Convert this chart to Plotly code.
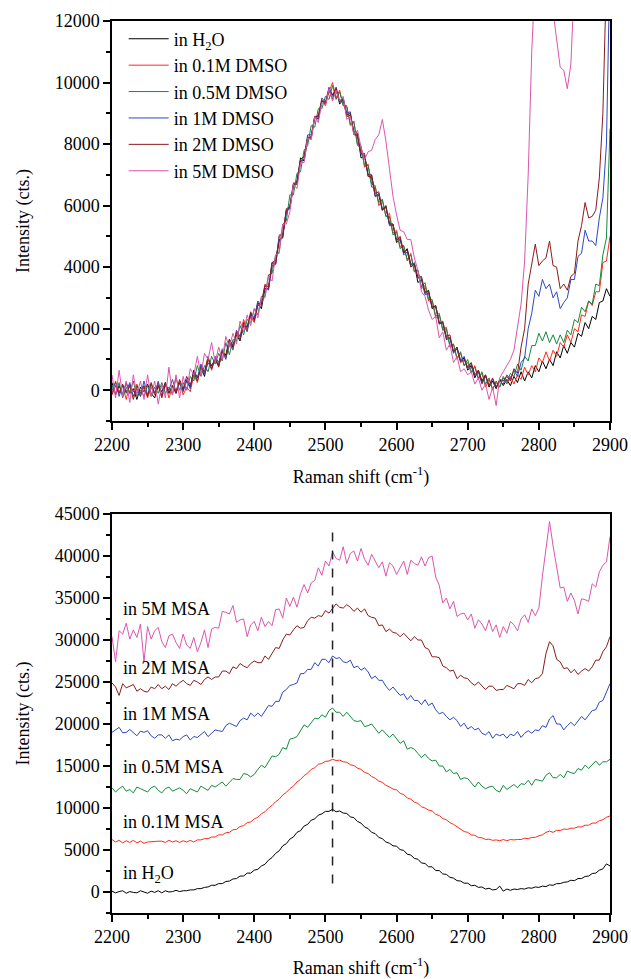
import plotly.graph_objects as go

# Raman shift grid (cm^-1), sampled every 5 cm^-1
RAMAN_SHIFT = list(range(2200, 2905, 5))

# ---------------- Top panel: DMSO series ----------------
TOP_NAMES = ["in H<sub>2</sub>O", "in 0.1M DMSO", "in 0.5M DMSO", "in 1M DMSO", "in 2M DMSO", "in 5M DMSO"]

TOP_H2O = [250,-150,150,-150,250,-100,50,-300,100,-50,
 200,-100,-250,150,-50,250,-100,150,-100,250,
 0,300,100,650,400,750,450,1000,800,1000,
 800,1250,1150,1650,1400,1800,1600,2200,2050,2450,
 2300,2850,2650,3300,3300,4150,4200,4900,4950,5850,
 5900,6650,6800,7550,7450,8150,8250,8900,8800,9400,
 9300,9800,9600,9800,9300,9450,8900,8950,8400,8350,
 7550,7600,7000,7000,6300,6350,5850,6000,5400,5400,
 4800,4900,4450,4600,4100,4100,3500,3600,3150,3250,
 2650,2750,2200,2200,1650,1700,1250,1400,950,1050,
 650,800,400,650,300,500,100,300,50,350,150,
 350,150,450,250,600,300,600,400,800,600,
 950,700,1000,800,1250,1050,1450,1200,1550,1400,
 1850,1750,2200,2000,2400,2300,2850,2900,3300,3050]

TOP_DMSO_01 = [-100,300,-50,150,-300,200,-50,200,-200,100,
 -250,100,-150,300,-200,200,-250,100,0,300,
 -150,100,-50,500,250,800,550,1050,650,1050,
 850,1350,1050,1500,1300,1850,1750,2300,1950,2400,
 2200,2800,2800,3450,3350,4000,4100,5050,5100,5800,
 5950,6750,6700,7400,7600,8250,8150,8850,8950,9450,
 9250,9700,10000,9500,9750,9250,9250,8600,8750,8000,
 7950,7250,7350,6700,6650,6000,6200,5650,5750,5100,
 5200,4650,4700,4200,4450,3850,3900,3300,3400,2900,
 2900,2350,2450,1950,2050,1450,1500,1000,1200,800,
 900,550,800,400,550,100,350,50,250,100,400,
 200,450,200,500,350,750,500,800,600,1050,
 900,1250,950,1300,1100,1550,1400,1800,1550,2000,
 1900,2450,2400,2900,2750,3200,3200,4150,4200,5000]

TOP_DMSO_05 = [150,-100,250,-250,100,-100,300,-200,0,-200,
 150,-200,100,-100,250,-100,100,-150,400,0,
 250,0,450,300,800,450,800,600,1100,850,
 1200,950,1550,1150,1650,1600,2100,1800,2300,2200,
 2650,2450,3050,3050,3750,3800,4400,4500,5400,5500,
 6350,6350,7050,7100,7800,7950,8600,8550,9150,9150,
 9550,9450,9900,9450,9700,9250,9200,8650,8700,7950,
 7900,7300,7300,6600,6600,6100,6200,5650,5650,5050,
 5150,4600,4700,4250,4400,3850,3900,3350,3500,2950,
 2950,2400,2500,1950,2000,1400,1500,1050,1250,800,
 1000,600,750,350,600,200,400,0,300,100,450,
 250,550,450,850,650,1100,950,1450,1450,1850,
 1600,1900,1550,1800,1500,1800,1550,1950,1800,2300,
 2200,2700,2550,2900,2800,3450,3400,4400,4950,8500]

TOP_DMSO_1 = [0,250,-200,150,-50,250,-200,50,-200,300,
 -150,200,-100,250,-200,150,0,350,-50,250,
 -50,350,50,600,400,850,500,900,700,1100,
 900,1300,1000,1550,1350,1950,1750,2150,1900,2500,
 2350,2900,2750,3400,3250,4050,4100,5000,5050,5750,
 6000,6700,6750,7450,7500,8300,8300,8850,8850,9500,
 9350,9850,9550,9750,9350,9500,9000,9050,8350,8250,
 7650,7650,6950,6900,6300,6400,5900,5950,5350,5350,
 4900,4950,4400,4500,4050,4150,3650,3650,3100,3150,
 2700,2700,2150,2250,1700,1700,1200,1350,950,1100,
 700,850,450,600,200,450,150,350,100,300,200,
 500,350,650,450,900,1050,2000,2500,3250,3050,
 3600,3300,3450,3000,3200,2650,2850,3000,3600,3600,
 4350,4450,5200,4850,4850,4700,5600,6250,8000,14000]

TOP_DMSO_2 = [-150,150,-100,200,-100,150,-300,150,-100,150,
 -200,250,-100,150,-250,250,-100,150,-100,350,
 50,450,150,600,300,750,600,1100,700,1000,
 750,1250,1100,1650,1450,1900,1650,2100,2050,2550,
 2250,2750,2800,3400,3350,4150,4100,4850,5000,5900,
 5950,6650,6700,7500,7600,8200,8200,8900,8900,9400,
 9350,9750,9450,9850,9400,9450,8950,9000,8300,8300,
 7700,7700,6950,6950,6400,6450,5850,5950,5400,5400,
 4850,5000,4500,4550,4000,4100,3650,3700,3200,3200,
 2700,2750,2150,2200,1750,1800,1250,1350,900,1000,
 750,900,500,650,250,500,150,400,100,350,300,
 450,300,700,550,1400,2000,3450,4100,4750,4050,
 4200,4300,4850,4050,4000,3300,3450,3250,3700,3800,
 4850,5350,6100,5600,5650,5850,6900,9000,13000,18000]

TOP_DMSO_5 = [500,-250,650,-200,300,-400,500,-150,300,-300,
 500,-200,300,-450,200,-250,750,-150,500,-250,
 450,0,700,500,1100,500,1200,1000,1550,900,
 1400,1000,1750,1400,1850,1500,2250,1900,2450,2100,
 2650,2350,3000,3000,3700,3550,4400,4450,5400,5400,
 5800,6700,6550,7400,7400,8200,8150,8900,8700,9350,
 9250,9800,9400,9750,9400,9550,8800,8900,8300,8450,
 7900,7500,7750,7800,8150,8300,8800,8100,7200,6300,
 5700,5200,5150,4900,4900,4300,3900,3200,3050,2600,
 2300,2400,1700,1900,1300,1500,900,1100,600,700,
 500,600,200,400,0,200,-300,100,-500,400,600,
 800,1000,1300,2000,2800,4200,7000,11000,14000,16000,
 16000,16000,16000,12300,11300,10500,10400,9800,10600,13000,
 16000,16000,16000,16000,16000,16000,16000,16000,16000,16000]

# ---------------- Bottom panel: MSA series ----------------
BOT_LABELS = ["in H<sub>2</sub>O", "in 0.1M MSA", "in 0.5M MSA", "in 1M MSA", "in 2M MSA", "in 5M MSA"]
BOT_LABEL_X = [2213, 2213, 2213, 2213, 2213, 2213]
BOT_LABEL_Y = [2100, 8300, 14900, 21200, 26700, 33700]
DASH_X = 2510
DASH_Y = [1000, 42800]

BOT_H2O = [100,-100,50,150,-150,50,-50,-100,150,0,
 -150,100,-50,150,-100,150,0,50,200,50,
 150,150,250,250,400,400,550,600,800,800,
 1000,1000,1250,1300,1550,1600,1900,1900,2250,2250,
 2600,2700,3100,3300,3800,4100,4600,4900,5500,5750,
 6300,6550,7100,7300,7850,8050,8550,8700,9150,9300,
 9600,9600,9850,9550,9650,9400,9350,8950,8850,8400,
 8200,7750,7550,7100,6950,6500,6350,5950,5800,5500,
 5450,5050,4950,4500,4400,4000,3900,3450,3400,3000,
 3000,2550,2550,2150,2100,1750,1650,1350,1300,1050,
 1050,750,800,550,600,350,450,250,300,700,
 100,350,200,350,300,400,350,500,450,600,
 550,700,650,850,800,1000,1000,1150,1200,1400,
 1350,1600,1600,1850,1900,2200,2250,2600,2750,3350,
 3100]

BOT_MSA_01 = [6250,5950,6150,5850,6100,5900,6150,5850,6050,5800,
 5950,6000,6000,6050,6050,5900,6150,5950,6100,5900,
 6100,5950,6150,5950,6200,6200,6350,6350,6550,6550,
 6800,6800,7050,7100,7400,7450,7800,7900,8250,8350,
 8700,8900,9300,9550,10000,10300,10750,11050,11550,11850,
 12300,12600,13100,13400,13850,14150,14600,14800,15200,15300,
 15550,15600,15800,15650,15700,15500,15450,15150,15050,14750,
 14600,14250,14100,13750,13550,13200,13050,12700,12500,12250,
 12150,11750,11600,11200,11050,10700,10550,10150,10000,9750,
 9650,9250,9100,8750,8600,8250,8050,7750,7550,7200,
 7100,6800,6750,6500,6450,6250,6300,6150,6200,6100,
 6250,6100,6250,6200,6250,6250,6400,6350,6500,6500,
 6700,6800,7100,7250,7100,7350,7300,7500,7450,7600,
 7600,7750,7750,7950,7950,8200,8200,8500,8600,8900,
 9050]

BOT_MSA_05 = [12400,11900,12300,12600,12000,12200,11800,12500,12300,12100,
 11900,12400,12600,12100,11800,12300,12500,12000,12200,12400,
 12100,11700,12300,12100,11900,12600,12300,12100,12700,12500,
 12800,13100,12600,13000,13500,13400,13400,14100,14000,13700,
 14000,14600,15100,14800,15500,16200,16100,16400,17200,17000,
 18200,18300,18500,19200,19900,19600,20100,20700,20600,21100,
 20800,21600,21900,21400,21400,20900,21400,20900,20400,20300,
 20400,19700,19800,20000,19400,18900,19300,18900,18400,18800,
 18200,17700,18000,17000,17200,17000,16500,16000,16400,15900,
 15600,15700,15000,15000,14300,14600,14100,14200,13400,13600,
 13500,13000,12500,13100,12600,12300,12500,12600,12100,11900,
 12700,12200,12500,12800,12400,12900,12800,13300,12700,13400,
 13300,13200,13900,14200,13600,13600,14000,13600,14400,14200,
 14100,14700,14500,15100,14700,15200,15600,15100,15500,15500,
 15800]

BOT_MSA_1 = [19000,19350,19600,18950,19000,19350,19000,18600,19150,19000,
 19200,18600,18300,18700,18700,18300,18700,18000,18200,18100,
 18500,18700,18100,18500,18400,18800,19100,18500,18900,19300,
 19200,19100,19800,20100,19900,19700,20400,20700,20500,21300,
 20900,21300,20900,21500,22200,22100,22700,22700,23800,24100,
 24600,24700,24900,26000,26000,26500,26500,27300,26900,27700,
 27700,27300,28100,27800,27900,27400,27300,27600,26700,26900,
 26400,26700,26200,25400,25700,25200,25200,24500,24000,24400,
 23900,23400,23600,22900,23400,22800,22800,22300,22900,22200,
 22500,21700,21200,21400,20900,20500,20800,20400,19700,20100,
 19400,19700,19300,19500,18900,18700,19100,18300,18800,18600,
 18800,18300,18800,18600,19100,18400,18900,19200,18900,19300,
 19200,19800,19600,20600,21000,20000,20000,19300,19800,20200,
 19800,20300,20900,20500,21100,21600,21700,22600,22800,23900,
 24800]

BOT_MSA_2 = [24900,24400,23400,24800,24300,24500,24700,23900,24200,23900,
 23800,24400,24200,24700,24200,24500,24100,24800,24500,24900,
 25200,24800,24600,25200,25000,24700,25300,25600,25300,25600,
 25600,26300,26300,26000,26800,26600,27200,26900,26700,27200,
 27500,27300,27300,28100,27700,28400,29100,29000,30000,30700,
 30600,31200,31700,31400,31500,32300,32700,32600,32900,32800,
 33500,33200,33800,34300,33900,33800,34200,33900,33400,33800,
 33300,33700,32900,32700,32600,31700,31800,31000,31300,30900,
 30800,30400,30800,30300,29900,30400,30000,30000,29100,28900,
 28000,28000,27900,26900,26700,26300,26400,25400,25800,25500,
 25400,24900,24600,25000,24600,24100,24500,24500,24000,24100,
 24100,24600,24400,24200,24800,24800,24600,25300,24900,25400,
 25500,26000,28400,29800,29300,27700,27400,26600,26700,26100,
 26500,25900,26300,26600,26300,26800,27600,27600,28600,29200,
 30400]

BOT_MSA_5 = [30400,27400,31100,30700,32000,30100,31200,30300,31900,27400,
 31600,30100,31100,31500,29800,29100,30500,30700,29700,29000,
 30700,29400,29000,30300,28600,29700,31200,29100,31300,31500,
 31400,33400,33300,33100,34100,32100,32400,32500,30400,31800,
 32200,31100,32700,31600,32200,31700,33600,33700,32600,35000,
 34000,35100,33900,35500,36600,35600,36800,37100,38600,37700,
 39400,38800,40500,39700,39500,41100,39100,40300,40600,39400,
 40900,39600,38900,40200,39400,38600,39300,37600,39200,38800,
 37800,38700,39400,37800,39500,39100,38900,39900,38800,39800,
 40000,37500,36500,34400,35000,33700,34600,32800,33100,33200,
 32400,33100,31400,32400,31900,31100,32400,31000,31800,30300,
 31600,30800,32200,31800,31100,32500,33000,32100,33700,32900,
 33800,37600,40800,44100,41200,38500,36200,36300,34600,35600,
 34700,33100,34900,34800,34600,36700,36300,38100,38900,39300,
 42300]

COLORS = ["#000000", "#FF2A1A", "#138A3C", "#2C48C0", "#8B1A1A", "#DB56AE"]

TOP_SERIES = [TOP_H2O, TOP_DMSO_01, TOP_DMSO_05, TOP_DMSO_1, TOP_DMSO_2, TOP_DMSO_5]
BOT_SERIES = [BOT_H2O, BOT_MSA_01, BOT_MSA_05, BOT_MSA_1, BOT_MSA_2, BOT_MSA_5]
for s in TOP_SERIES + BOT_SERIES:
    assert len(s) == len(RAMAN_SHIFT), len(s)

FONT = "Liberation Serif"
W, H = 631, 979

fig = go.Figure()
for name, ys, c in zip(TOP_NAMES, TOP_SERIES, COLORS):
    fig.add_trace(go.Scatter(x=RAMAN_SHIFT, y=ys, mode="lines", name=name,
                             line=dict(color=c, width=1), xaxis="x", yaxis="y"))
for name, ys, c in zip(BOT_LABELS, BOT_SERIES, COLORS):
    fig.add_trace(go.Scatter(x=RAMAN_SHIFT, y=ys, mode="lines", name=name, showlegend=False,
                             line=dict(color=c, width=1), xaxis="x2", yaxis="y2"))

# dashed guide line in lower panel
fig.add_trace(go.Scatter(x=[DASH_X, DASH_X], y=DASH_Y, mode="lines", showlegend=False,
                         line=dict(color="#222222", width=1.5, dash="dash"),
                         xaxis="x2", yaxis="y2", hoverinfo="skip"))

xdom = [112 / W, 610 / W]
common_x = dict(domain=xdom, range=[2200, 2900], tick0=2200, dtick=100, ticks="outside",
                ticklen=7, tickwidth=1.5, tickcolor="black", showline=True, linewidth=1.5,
                linecolor="black", mirror=True, showgrid=False, zeroline=False, automargin=False,
                tickfont=dict(family=FONT, size=18, color="black"),
                minor=dict(dtick=50, ticklen=4, tickwidth=1.5, tickcolor="black", ticks="outside"),
                title=dict(text="Raman shift (cm<sup>-1</sup>)", font=dict(family=FONT, size=18, color="black"),
                           standoff=16))
common_y = dict(ticks="outside", ticklen=7, tickwidth=1.5, tickcolor="black", showline=True,
                linewidth=1.5, linecolor="black", mirror=True, showgrid=False, zeroline=False,
                tickformat="d", tick0=0, automargin=False,
                tickfont=dict(family=FONT, size=18, color="black"),
                title=dict(text="Intensity (cts.)", font=dict(family=FONT, size=18, color="black"),
                           standoff=20))

annotations = []
for txt, ax, ay in zip(BOT_LABELS, BOT_LABEL_X, BOT_LABEL_Y):
    annotations.append(dict(text=txt, x=ax, y=ay, xref="x2", yref="y2", xanchor="left",
                            yanchor="middle", showarrow=False,
                            font=dict(family=FONT, size=18, color="black")))

fig.update_layout(
    width=W, height=H, margin=dict(l=0, r=0, t=0, b=0, autoexpand=False),
    paper_bgcolor="white", plot_bgcolor="white",
    font=dict(family=FONT, size=18, color="black"),
    xaxis=dict(common_x, anchor="y"),
    yaxis=dict(common_y, anchor="x", domain=[1 - 421 / H, 1 - 21 / H], range=[-1000, 12000],
               dtick=2000, minor=dict(dtick=1000, ticklen=4, tickwidth=1.5, tickcolor="black", ticks="outside")),
    xaxis2=dict(common_x, anchor="y2"),
    yaxis2=dict(common_y, anchor="x2", domain=[1 - 913 / H, 1 - 514 / H], range=[-2500, 45000],
                dtick=5000, minor=dict(dtick=2500, ticklen=4, tickwidth=1.5, tickcolor="black", ticks="outside")),
    legend=dict(x=0.196, y=0.979, xanchor="left", yanchor="top", bgcolor="rgba(0,0,0,0)",
                font=dict(family=FONT, size=18, color="black"), tracegroupgap=0, itemwidth=40),
    annotations=annotations,
    showlegend=True,
)

fig.write_html("out.html", config={"displayModeBar": False},
               post_script="document.body.style.margin='0';document.body.style.overflow='hidden';")
